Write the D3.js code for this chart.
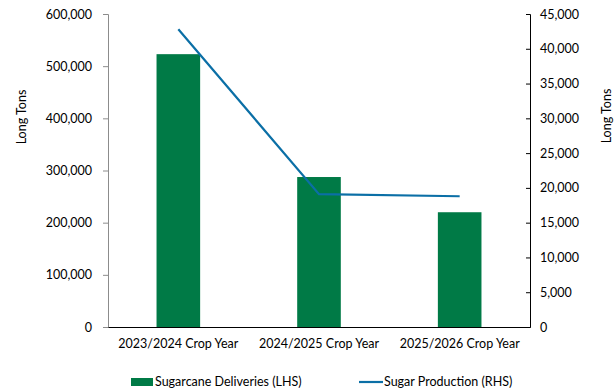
<!DOCTYPE html>
<html>
<head>
<meta charset="utf-8">
<script src="https://cdn.jsdelivr.net/npm/d3@7"></script>
<style>
  html, body { margin: 0; padding: 0; background: #fff; }
  svg { display: block; font-family: Lato, "Open Sans", sans-serif; }
</style>
</head>
<body>
<svg id="chart" width="614" height="388"></svg>
<script>
// Crop years and the two series
const categories = ["2023/2024 Crop Year", "2024/2025 Crop Year", "2025/2026 Crop Year"];
const sugarcaneDeliveries = [523000, 287500, 220000];   // LHS, long tons
const sugarProduction = [42800, 19100, 18800];          // RHS, long tons
const leftTicks = [0, 100000, 200000, 300000, 400000, 500000, 600000];
const rightTicks = [0, 5000, 10000, 15000, 20000, 25000, 30000, 35000, 40000, 45000];
const seriesNames = ["Sugarcane Deliveries (LHS)", "Sugar Production (RHS)"];
const axisTitle = "Long Tons";

const barColor = "#007a46";
const lineColor = "#0b6fa6";
const fontSize = 12.5;

const svg = d3.select("#chart");
const plotLeft = 108, plotRight = 530, plotTop = 14, plotBottom = 327;

const x = d3.scaleBand().domain(categories).range([plotLeft, plotRight]).paddingInner(0.69).paddingOuter(0.345);
const yL = d3.scaleLinear().domain([0, 600000]).range([plotBottom, plotTop]);
const yR = d3.scaleLinear().domain([0, 45000]).range([plotBottom, plotTop]);
const fmt = d3.format(",");

// Bars
svg.append("g").selectAll("rect").data(categories).join("rect")
  .attr("x", d => x(d))
  .attr("width", x.bandwidth())
  .attr("y", (d, i) => yL(sugarcaneDeliveries[i]))
  .attr("height", (d, i) => plotBottom - yL(sugarcaneDeliveries[i]))
  .attr("fill", barColor);

// Left axis
const gL = svg.append("g").attr("transform", `translate(${plotLeft},0)`)
  .call(d3.axisLeft(yL).tickValues(leftTicks).tickFormat(fmt).tickSize(5).tickPadding(11));
gL.select(".domain").attr("stroke", "#8c8c8c");
gL.selectAll(".tick line").attr("stroke", "#8c8c8c");

// Right axis (ticks point inward)
const gR = svg.append("g").attr("transform", `translate(${plotRight},0)`)
  .call(d3.axisRight(yR).tickValues(rightTicks).tickFormat(fmt).tickSize(-4).tickPadding(10));
gR.select(".domain").attr("stroke", "#000");
gR.selectAll(".tick line").attr("stroke", "#000");

// Category axis
const gB = svg.append("g").attr("transform", `translate(0,${plotBottom})`)
  .call(d3.axisBottom(x).tickSize(0).tickPadding(12));
gB.select(".domain").attr("stroke", "#000");

[gL, gR, gB].forEach(g => g.selectAll("text").attr("font-size", fontSize).attr("fill", "#000")
  .attr("font-family", "Lato, 'Open Sans', sans-serif"));

// Line series
const line = d3.line().x((d, i) => x(categories[i]) + x.bandwidth() / 2).y(d => yR(d));
svg.append("path").datum(sugarProduction)
  .attr("d", line).attr("fill", "none").attr("stroke", lineColor).attr("stroke-width", 2.2);

// Axis titles
svg.append("text").attr("transform", "translate(26,117) rotate(-90)")
  .attr("text-anchor", "middle").attr("font-size", fontSize).text(axisTitle);
svg.append("text").attr("transform", "translate(611,116) rotate(-90)")
  .attr("text-anchor", "middle").attr("font-size", fontSize).text(axisTitle);

// Legend
const lg = svg.append("g");
lg.append("rect").attr("x", 131).attr("y", 378).attr("width", 22).attr("height", 8).attr("fill", barColor);
lg.append("text").attr("x", 155).attr("y", 386).attr("font-size", fontSize).text(seriesNames[0]);
lg.append("line").attr("x1", 359).attr("x2", 383).attr("y1", 382).attr("y2", 382)
  .attr("stroke", lineColor).attr("stroke-width", 2.2);
lg.append("text").attr("x", 384).attr("y", 386).attr("font-size", fontSize).text(seriesNames[1]);
</script>
</body>
</html>
